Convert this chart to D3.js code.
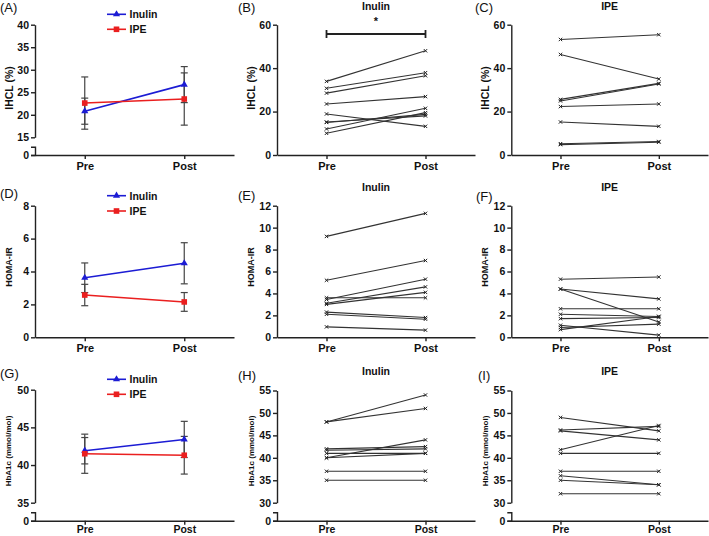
<!DOCTYPE html>
<html><head><meta charset="utf-8">
<script src="https://cdn.jsdelivr.net/npm/d3@7"></script>
<style>
body{margin:0;background:#fff;}
svg{display:block;font-family:Arial,"Liberation Sans",sans-serif;}
.axis path,.axis line{stroke:#222;stroke-width:1.4;}
.axis text{font-weight:bold;fill:#111;}
</style></head><body>
<svg id="c" width="709" height="536"></svg>
<script>
// ---------- DATA ----------
const timepoints = ["Pre", "Post"];
const groups = ["Inulin", "IPE"];

// IHCL (%) group means ± error
const ihclInulinMean = [20.8, 26.7];
const ihclInulinErr  = [2.9, 4.0];
const ihclIpeMean    = [22.6, 23.5];
const ihclIpeErr     = [5.8, 5.8];
// IHCL individual
const ihclInulinPre  = [33.9, 30.7, 28.5, 23.5, 18.9, 15.0, 15.2, 12.0, 10.0];
const ihclInulinPost = [48.0, 37.9, 36.5, 26.9, 13.2, 18.7, 18.0, 21.5, 19.5];
const ihclIpePre     = [53.2, 46.3, 25.6, 24.9, 22.3, 15.2, 5.2, 4.8];
const ihclIpePost    = [55.4, 35.0, 33.0, 32.7, 23.5, 13.2, 6.2, 5.9];

// HOMA-IR group means ± error
const homaInulinMean = [3.62, 4.5];
const homaInulinErr  = [0.9, 1.25];
const homaIpeMean    = [2.57, 2.15];
const homaIpeErr     = [0.65, 0.57];
// HOMA-IR individual
const homaInulinPre  = [9.2, 5.2, 3.6, 3.45, 3.1, 3.0, 2.3, 2.1, 0.95];
const homaInulinPost = [11.3, 7.0, 3.6, 5.3, 4.6, 4.1, 1.8, 1.65, 0.65];
const homaIpePre     = [5.3, 4.4, 4.4, 2.6, 2.1, 1.7, 1.1, 0.9, 0.7];
const homaIpePost    = [5.5, 3.5, 1.4, 2.6, 1.9, 1.8, 0.2, 1.2, 1.9];

// HbA1c (mmol/mol) group means ± error
const hba1cInulinMean = [41.9, 43.4];
const hba1cInulinErr  = [1.75, 2.4];
const hba1cIpeMean    = [41.5, 41.3];
const hba1cIpeErr     = [2.6, 2.5];
// HbA1c individual
const hba1cInulinPre  = [48, 48, 42, 41.7, 41, 40, 40, 37, 35];
const hba1cInulinPost = [54, 51, 42.5, 42, 41, 41, 44, 37, 35];
const hba1cIpePre     = [49, 46.2, 46, 41.8, 41, 37, 36, 35, 32];
const hba1cIpePost    = [46, 47, 44, 47.2, 41, 37, 34, 34, 32];

// Tick labels
const ticksIhclMean = [15, 20, 25, 30, 35, 40];
const ticksIhclInd  = [0, 20, 40, 60];
const ticksHomaMean = [0, 2, 4, 6, 8];
const ticksHomaInd  = [0, 2, 4, 6, 8, 10, 12];
const ticksHbMean   = [35, 40, 45, 50];
const ticksHbInd    = [30, 35, 40, 45, 50, 55];

// ---------- DRAW ----------
const svg = d3.select("#c");
svg.append("rect").attr("width",709).attr("height",536).attr("fill","#fff");
const BLUE = "#1c1cd4", RED = "#ea1f1f", GREY = "#444";

const cols = [{ax:35, end:234, lab:8.5}, {ax:277, end:475, lab:251}, {ax:511.3, end:708, lab:485}];

function xScale(c){ return d3.scalePoint().domain(timepoints).range([cols[c].ax, cols[c].end]).padding(0.5); }

function yAxis(c, y, ticks, fs, brk){
  const g = svg.append("g").attr("class","axis").attr("transform",`translate(${cols[c].ax},0)`)
    .call(d3.axisLeft(y).tickValues(ticks).tickSize(4).tickSizeOuter(0).tickPadding(2).tickFormat(d3.format("d")));
  g.selectAll("text").style("font-size",fs+"px");
  if(brk){
    const y0 = d3.scaleLinear().domain([0,1]).range([brk.zero, brk.top]);
    const g2 = svg.append("g").attr("class","axis").attr("transform",`translate(${cols[c].ax},0)`)
      .call(d3.axisLeft(y0).tickValues([0]).tickSize(4).tickSizeOuter(4).tickPadding(2).tickFormat(d3.format("d")));
    g2.selectAll("text").style("font-size",fs+"px");
  }
}
function xAxis(c, yPos, fs, pad){
  const g = svg.append("g").attr("class","axis").attr("transform",`translate(0,${yPos})`)
    .call(d3.axisBottom(xScale(c)).tickSize(4).tickSizeOuter(0).tickPadding(pad));
  g.selectAll("text").style("font-size",fs+"px");
}
function yLabel(c, yc, text, fs){
  svg.append("text").attr("transform",`translate(${cols[c].lab},${yc}) rotate(-90)`)
    .attr("text-anchor","middle").attr("dominant-baseline","central")
    .style("font-weight","bold").style("font-size",fs+"px").attr("fill","#111").text(text);
}
function panelLabel(x, y, t){
  svg.append("text").attr("x",x).attr("y",y).style("font-size","13px").attr("fill","#111").text(t);
}
function title(c, y, t){
  const x = xScale(c);
  svg.append("text").attr("x",(x("Pre")+x("Post"))/2).attr("y",y).attr("text-anchor","middle")
    .style("font-weight","bold").style("font-size","10.5px").attr("fill","#111").text(t);
}
function marker(g, type, x, y, color){
  if(type==="tri"){
    g.append("path").attr("d",d3.symbol(d3.symbolTriangle,22)()).attr("transform",`translate(${x},${y})`).attr("fill",color);
  } else {
    g.append("rect").attr("x",x-2.8).attr("y",y-2.8).attr("width",5.6).attr("height",5.6).attr("fill",color);
  }
}
function meanPanel(c, y, inMean, inErr, ipMean, ipErr, legY){
  const x = xScale(c);
  const g = svg.append("g");
  const series = [
    {name:groups[0], mean:inMean, err:inErr, color:BLUE, type:"tri"},
    {name:groups[1], mean:ipMean, err:ipErr, color:RED, type:"sq"}
  ];
  series.forEach(s=>{
    timepoints.forEach((t,i)=>{
      const xx = x(t), lo = y(s.mean[i]-s.err[i]), hi = y(s.mean[i]+s.err[i]);
      g.append("line").attr("x1",xx).attr("x2",xx).attr("y1",lo).attr("y2",hi).attr("stroke",GREY).attr("stroke-width",1.2);
      [lo,hi].forEach(v=>g.append("line").attr("x1",xx-3.5).attr("x2",xx+3.5).attr("y1",v).attr("y2",v).attr("stroke",GREY).attr("stroke-width",1.2));
    });
  });
  series.forEach(s=>{
    g.append("path").datum(s.mean).attr("fill","none").attr("stroke",s.color).attr("stroke-width",1.6)
      .attr("d",d3.line().x((d,i)=>x(timepoints[i])).y(d=>y(d)));
    s.mean.forEach((d,i)=>marker(g,s.type,x(timepoints[i]),y(d),s.color));
  });
  // legend
  series.forEach((s,k)=>{
    const ly = legY[k];
    g.append("line").attr("x1",107).attr("x2",126).attr("y1",ly).attr("y2",ly).attr("stroke",s.color).attr("stroke-width",1.6);
    marker(g,s.type,116.5,ly,s.color);
    g.append("text").attr("x",129.5).attr("y",ly).attr("dominant-baseline","central")
      .style("font-weight","bold").style("font-size","10.5px").attr("fill","#111").text(s.name);
  });
}
function indPanel(c, y, pre, post){
  const x = xScale(c);
  const g = svg.append("g");
  pre.forEach((p,i)=>{
    g.append("line").attr("x1",x("Pre")).attr("x2",x("Post")).attr("y1",y(p)).attr("y2",y(post[i]))
      .attr("stroke","#333").attr("stroke-width",1.1);
  });
  const cross = d3.symbol(d3.symbolX, 9);
  pre.forEach((p,i)=>{
    [[x("Pre"),y(p)],[x("Post"),y(post[i])]].forEach(([a,b])=>{
      g.append("path").attr("d",cross()).attr("transform",`translate(${a},${b})`).attr("fill","none").attr("stroke","#222").attr("stroke-width",1);
    });
  });
}

// Row 1
const r1b = 155, r1t = 24.7;
const yA = d3.scaleLinear().domain([15,40]).range([137.3, r1t]);
yAxis(0, yA, ticksIhclMean, 10.5, {zero:r1b, top:146.7});
xAxis(0, r1b, 11, 3);
meanPanel(0, yA, ihclInulinMean, ihclInulinErr, ihclIpeMean, ihclIpeErr, [14.3, 29.3]);
yLabel(0, 88, "IHCL (%)", 10.5);
panelLabel(0, 12, "(A)");

const yB = d3.scaleLinear().domain([0,60]).range([r1b, r1t]);
yAxis(1, yB, ticksIhclInd, 10.5);
xAxis(1, r1b, 11, 3);
indPanel(1, yB, ihclInulinPre, ihclInulinPost);
yLabel(1, 88, "IHCL (%)", 10.5);
panelLabel(238, 12, "(B)");
title(1, 10, "Inulin");
// significance bar
{
  const x = xScale(1);
  const g = svg.append("g").attr("stroke","#222").attr("stroke-width",1.8);
  g.append("line").attr("x1",x("Pre")).attr("x2",x("Post")).attr("y1",34).attr("y2",34);
  g.append("line").attr("x1",x("Pre")).attr("x2",x("Pre")).attr("y1",30).attr("y2",38);
  g.append("line").attr("x1",x("Post")).attr("x2",x("Post")).attr("y1",30).attr("y2",38);
  svg.append("text").attr("x",(x("Pre")+x("Post"))/2).attr("y",25).attr("text-anchor","middle")
    .style("font-weight","bold").style("font-size","11px").attr("fill","#111").text("*");
}

const yC = d3.scaleLinear().domain([0,60]).range([r1b, r1t]);
yAxis(2, yC, ticksIhclInd, 10.5);
xAxis(2, r1b, 11, 3);
indPanel(2, yC, ihclIpePre, ihclIpePost);
yLabel(2, 88, "IHCL (%)", 10.5);
panelLabel(475, 12, "(C)");
title(2, 10, "IPE");

// Row 2
const r2b = 337.3, r2t = 205.7;
const yD = d3.scaleLinear().domain([0,8]).range([r2b, r2t]);
yAxis(0, yD, ticksHomaMean, 10.5);
xAxis(0, r2b, 11, 3);
meanPanel(0, yD, homaInulinMean, homaInulinErr, homaIpeMean, homaIpeErr, [195.7, 211]);
yLabel(0, 267, "HOMA-IR", 9);
panelLabel(0, 198, "(D)");

const yE = d3.scaleLinear().domain([0,12]).range([r2b, r2t]);
yAxis(1, yE, ticksHomaInd, 10.5);
xAxis(1, r2b, 11, 3);
indPanel(1, yE, homaInulinPre, homaInulinPost);
yLabel(1, 267, "HOMA-IR", 9);
panelLabel(238, 199.5, "(E)");
title(1, 191, "Inulin");

const yF = d3.scaleLinear().domain([0,12]).range([r2b, r2t]);
yAxis(2, yF, ticksHomaInd, 10.5);
xAxis(2, r2b, 11, 3);
indPanel(2, yF, homaIpePre, homaIpePost);
yLabel(2, 267, "HOMA-IR", 9);
panelLabel(476, 201, "(F)");
title(2, 191, "IPE");

// Row 3
const r3z = 520.7, r3b = 502.7;
const yG = d3.scaleLinear().domain([35,50]).range([r3b, 389.7]);
yAxis(0, yG, ticksHbMean, 10.5, {zero:r3z, top:512.3});
xAxis(0, r3z, 10.5, 1.2);
meanPanel(0, yG, hba1cInulinMean, hba1cInulinErr, hba1cIpeMean, hba1cIpeErr, [379.3, 394.3]);
yLabel(0, 451, "HbA1c (mmol/mol)", 8);
panelLabel(0, 378, "(G)");

const yH = d3.scaleLinear().domain([30,55]).range([r3b, 390.5]);
yAxis(1, yH, ticksHbInd, 10.5, {zero:r3z, top:512.3});
xAxis(1, r3z, 10.5, 1.2);
indPanel(1, yH, hba1cInulinPre, hba1cInulinPost);
yLabel(1, 451, "HbA1c (mmol/mol)", 8);
panelLabel(238, 380, "(H)");
title(1, 375, "Inulin");

const yI = d3.scaleLinear().domain([30,55]).range([r3b, 390.5]);
yAxis(2, yI, ticksHbInd, 10.5, {zero:r3z, top:512.3});
xAxis(2, r3z, 10.5, 1.2);
indPanel(2, yI, hba1cIpePre, hba1cIpePost);
yLabel(2, 451, "HbA1c (mmol/mol)", 8);
panelLabel(478, 380, "(I)");
title(2, 375, "IPE");
</script>
</body></html>
